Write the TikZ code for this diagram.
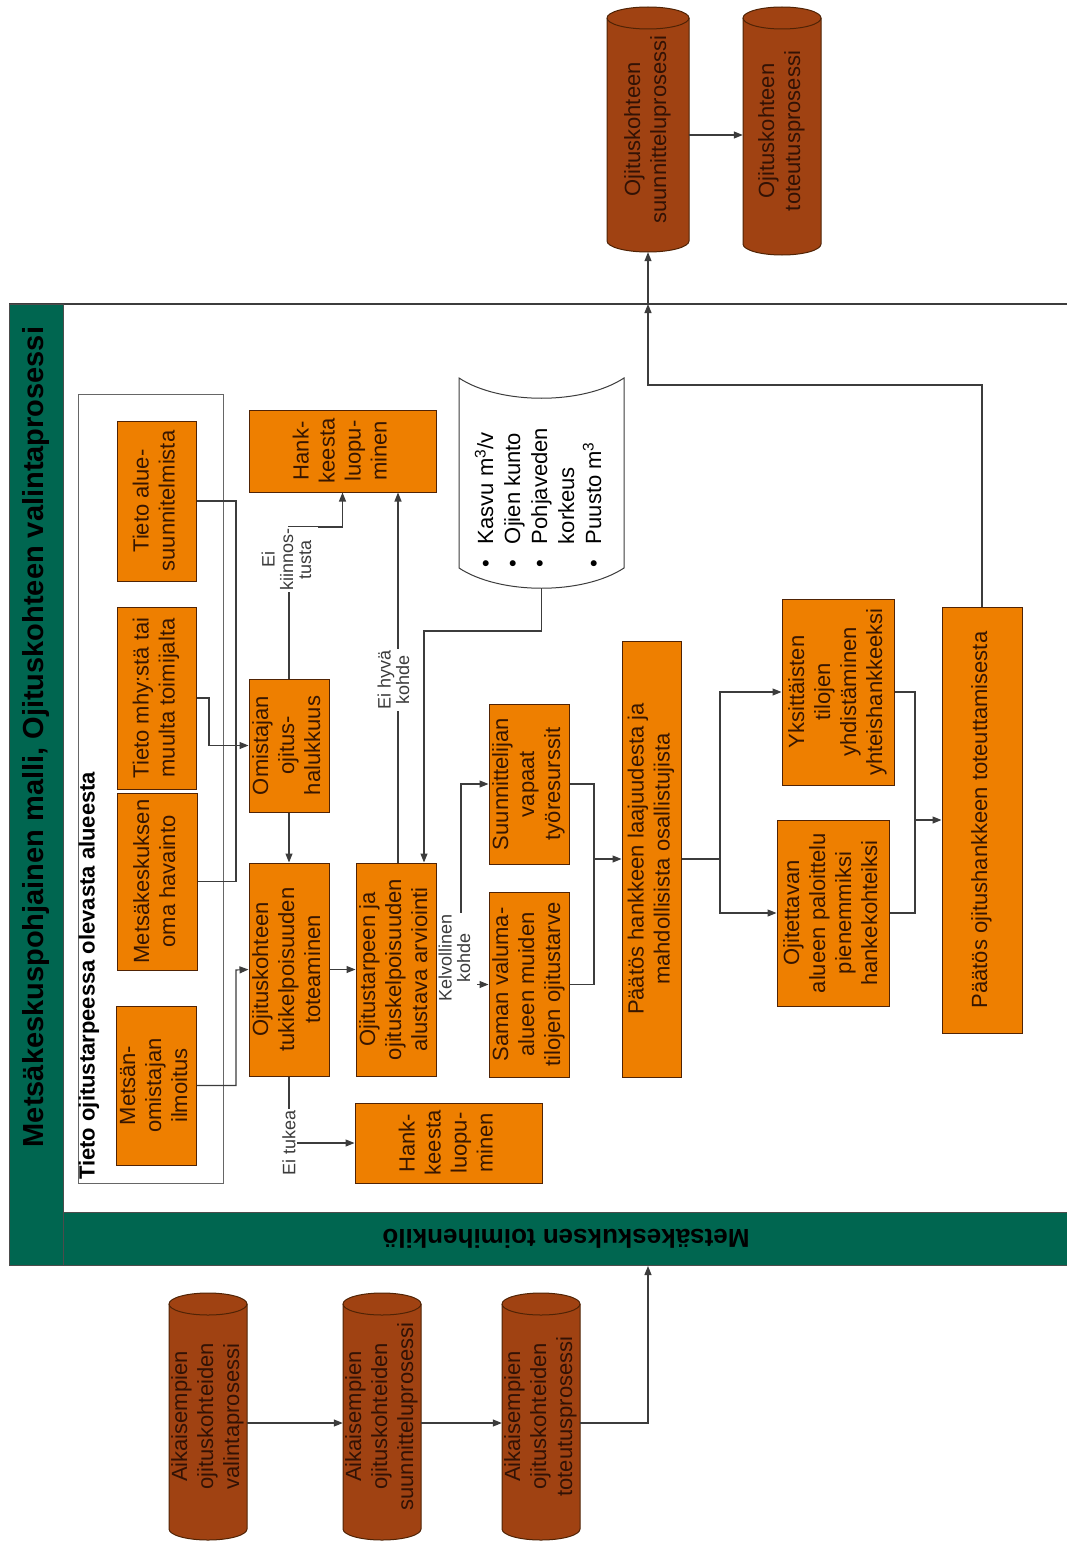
\documentclass[tikz,border=0pt]{standalone}
\usepackage{fontspec}
\setmainfont{Liberation Sans}
\usepackage{graphicx}
\usetikzlibrary{arrows.meta,calc}
\definecolor{orng}{RGB}{238,127,0}
\definecolor{orngline}{RGB}{80,35,5}
\definecolor{cylfill}{RGB}{160,66,18}
\definecolor{cyltext}{RGB}{50,18,5}
\definecolor{boxtext}{RGB}{55,22,0}
\definecolor{grn}{RGB}{0,102,80}
\definecolor{lin}{RGB}{60,60,60}

\newcommand\obox[6]{\node[obox, minimum width={(#4-#2)*1pt}, minimum height={(#5-#3)*1pt}] (#1) at ({(#2+#4)/2},{(#3+#5)/2}) {\rotatebox{90}{\begin{tabular}{@{}c@{}}#6\end{tabular}}};}

\newcommand\mycyl[6]{%
 \path[fill=cylfill, draw=orngline, line width=1pt] (#2,#3+11) -- (#2,#5-11) arc[start angle=180,end angle=360,x radius={(#4-#2)/2*1pt},y radius=11pt] -- (#4,#3+11) arc[start angle=0,end angle=180,x radius={(#4-#2)/2*1pt},y radius=11pt] -- cycle;
 \draw[orngline, line width=1pt] (#2,#3+11) arc[start angle=180,end angle=360,x radius={(#4-#2)/2*1pt},y radius=11pt];
 \node[cyltxt, minimum width={(#4-#2)*1pt}, minimum height={(#5-#3)*1pt}] (#1) at ({(#2+#4)/2},{(#3+#5)/2}) {\rotatebox{90}{\begin{tabular}{@{}c@{}}#6\end{tabular}}};}

\begin{document}
\begin{tikzpicture}[x=1pt,y=-1pt,
 obox/.style={draw=orngline, fill=orng, line width=1pt, inner sep=0pt, text=boxtext, font=\fontsize{22}{26}\selectfont},
 cyltxt/.style={inner sep=0pt, text=cyltext, font=\fontsize{22}{26}\selectfont},
 conn/.style={draw=lin, line width=1.1pt},
 arr/.style={conn, -{Triangle[length=9pt,width=7pt]}},
 lab/.style={fill=white, inner sep=1.5pt, text=lin, font=\fontsize{18}{18}\selectfont}]
\useasboundingbox (0,0) rectangle (1067,1541);
\fill[white] (0,0) rectangle (1067,1541);

% pool
\draw[lin, line width=1.1pt] (9,304) -- (1067,304);
\path[fill=grn, draw=black!70, line width=1pt] (9,304) rectangle (63,1265);
\path[fill=grn, draw=black!70, line width=1pt] (63,1212) rectangle (1067,1265);
\node[font=\fontsize{29}{32}\selectfont\bfseries, text=black, inner sep=0pt] (title) at (36,737) {\rotatebox{90}{Metsäkeskuspohjainen malli, Ojituskohteen valintaprosessi}};
\node[font=\fontsize{26}{30}\selectfont\bfseries, text=black, inner sep=0pt] (lane) at (566,1239) {\rotatebox{180}{Metsäkeskuksen toimihenkilö}};
\coordinate (pooltop) at (648,304);
\coordinate (poolbot) at (648,1266);

% group box
\draw[black!60, line width=1pt, fill=white] (78,394) rectangle (223,1183);
\node[font=\fontsize{22}{26}\selectfont\bfseries, text=black, anchor=south, inner sep=0pt] (grplab) at (89,1180) {\rotatebox{90}{Tieto ojitustarpeessa olevasta alueesta}};

% boxes
\obox{ilm}{116}{1006}{196}{1165}{Metsän-\\omistajan\\ilmoitus}
\obox{hav}{117}{793}{197}{970}{Metsäkeskuksen\\oma havainto}
\obox{mhy}{117}{607}{196}{789}{Tieto mhy:stä tai\\muulta toimijalta}
\obox{alue}{117}{421}{196}{581}{Tieto alue-\\suunnitelmista}
\obox{tuki}{249}{863}{329}{1076}{Ojituskohteen\\tukikelpoisuuden\\toteaminen}
\obox{omis}{249}{679}{329}{812}{Omistajan\\ojitus-\\halukkuus}
\obox{hank1}{249}{410}{436}{492}{Hank-\\keesta\\luopu-\\minen}
\obox{arv}{356}{863}{436}{1076}{Ojitustarpeen ja\\ojituskelpoisuuden\\alustava arviointi}
\obox{hank2}{355}{1103}{542}{1183}{Hank-\\keesta\\luopu-\\minen}
\obox{saman}{489}{892}{569}{1077}{Saman valuma-\\alueen muiden\\tilojen ojitustarve}
\obox{suun}{489}{704}{569}{864}{Suunnittelijan\\vapaat\\työresurssit}
\obox{paat1}{622}{641}{681}{1077}{Päätös hankkeen laajuudesta ja\\mahdollisista osallistujista}
\obox{ojit}{777}{820}{889}{1006}{Ojitettavan\\alueen paloittelu\\pienemmiksi\\hankekohteiksi}
\obox{yks}{782}{599}{894}{785}{Yksittäisten\\tilojen\\yhdistäminen\\yhteishankkeeksi}
\obox{paat2}{942}{607}{1022}{1033}{Päätös ojitushankkeen toteuttamisesta}

% document shape
\draw[lin, line width=1pt, fill=white] (459,378) .. controls (500,405) and (583,405) .. (624,378) -- (624,568) .. controls (583,595) and (500,595) .. (459,568) -- cycle;
\node[minimum width=165pt, minimum height=210pt, inner sep=0pt] (doc) at (541.5,483) {};
\node[anchor=south west, inner sep=0pt, font=\fontsize{22}{27}\selectfont, text=black] (doctext) at (474,568) {\rotatebox{90}{\begin{tabular}{@{}l@{\hspace{16pt}}l@{}}• & Kasvu m\textsuperscript{3}/v\\ • & Ojien kunto\\ • & Pohjaveden\\ & korkeus\\ • & Puusto m\textsuperscript{3}\end{tabular}}};

% cylinders
\mycyl{oc1}{607}{7}{689}{252}{Ojituskohteen\\suunnitteluprosessi}
\mycyl{oc2}{743}{7}{821}{255}{Ojituskohteen\\toteutusprosessi}
\mycyl{aik1}{169}{1293}{247}{1540}{Aikaisempien\\ojituskohteiden\\valintaprosessi}
\mycyl{aik2}{343}{1293}{421}{1540}{Aikaisempien\\ojituskohteiden\\suunnitteluprosessi}
\mycyl{aik3}{502}{1293}{580}{1540}{Aikaisempien\\ojituskohteiden\\toteutusprosessi}

% connectors
\draw[arr] (ilm.east) -| (236,970) -- (tuki.west);
\draw[conn] (alue.east) -| (236,881.5) -- (hav.east);
\draw[arr] (mhy.east) -| (209,745.5) -- (omis.west);
\draw[arr] (omis.south) -- (tuki.north);
\draw[arr] (omis.north) -- (289,527) -| (hank1.south);
\draw[arr] (398,0 |- arv.north) -- (398,0 |- hank1.south);
\draw[arr] (tuki.east) -- (arv.west);
\draw[arr] (doc.south) -- (541.5,631) -| (424,0 |- arv.north);
\draw[arr] (tuki.south) |- (hank2.west);
\draw[conn] (arv.east) -- (461,969.5);
\draw[arr] (461,969.5) |- (suun.west);
\draw[arr] (461,969.5) |- (saman.west);
\draw[arr] (suun.east) -| (594,859) -- (paat1.west);
\draw[conn] (saman.east) -| (594,859);
\draw[conn] (paat1.east) -- (720,859);
\draw[arr] (720,859) |- (yks.west);
\draw[arr] (720,859) |- (ojit.west);
\draw[arr] (yks.east) -| (915,820) -- (paat2.west);
\draw[conn] (ojit.east) -| (915,820);
\draw[arr] (paat2.north) |- (648,385) -- (pooltop);
\draw[arr] (pooltop) -- (oc1.south);
\draw[arr] (oc1.east |- 0,135) -- (oc2.west |- 0,135);
\draw[arr] (aik1.east |- 0,1423) -- (aik2.west |- 0,1423);
\draw[arr] (aik2.east |- 0,1423) -- (aik3.west |- 0,1423);
\draw[arr] (aik3.east |- 0,1423) -| (poolbot);

% labels
\node[lab, anchor=north] (l1) at (289,527) {\rotatebox{90}{\begin{tabular}{@{}c@{}}Ei\\kiinnos-\\tusta\end{tabular}}};
\node[lab] (l2) at (396,680) {\rotatebox{90}{\begin{tabular}{@{}c@{}}Ei hyvä\\kohde\end{tabular}}};
\node[lab] (l3) at (457,958) {\rotatebox{90}{\begin{tabular}{@{}c@{}}Kelvollinen\\kohde\end{tabular}}};
\node[lab] (l4) at (289,1143) {\rotatebox{90}{Ei tukea}};
\end{tikzpicture}
\end{document}
